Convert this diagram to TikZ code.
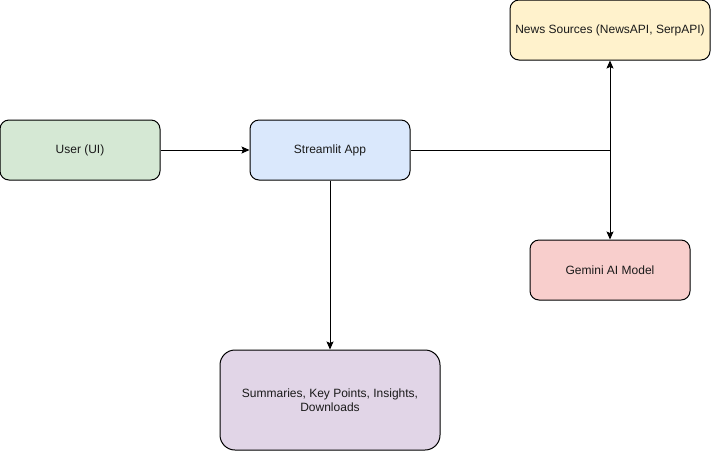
\documentclass[tikz,border=0pt]{standalone}
\usepackage{fontspec}
\setmainfont{Liberation Sans}
\usetikzlibrary{arrows.meta}
\definecolor{ugreen}{HTML}{D5E8D4}
\definecolor{ublue}{HTML}{DAE8FC}
\definecolor{uyellow}{HTML}{FFF2CC}
\definecolor{ured}{HTML}{F8CECC}
\definecolor{upurple}{HTML}{E1D5E7}
\definecolor{txt}{HTML}{1A1A1A}
\tikzset{
  box/.style={draw=black, line width=1pt, rounded corners=9pt, minimum width=160pt, minimum height=60pt,
    inner sep=0pt, align=center, font=\fontsize{12}{14}\selectfont, text=txt},
  conn/.style={draw=black, line width=1pt, -{Stealth[length=8pt,width=7pt,inset=1.5pt]}}
}
\begin{document}
\begin{tikzpicture}[x=1pt,y=-1pt]
\useasboundingbox (0,0) rectangle (711,451);
\node[box, fill=ugreen] (user) at (80,150) {User (UI)};
\node[box, fill=ublue] (app) at (330,150) {Streamlit App};
\node[box, fill=uyellow, minimum width=200pt] (news) at (610,30) {News Sources (NewsAPI, SerpAPI)};
\node[box, fill=ured] (gem) at (610,270) {Gemini AI Model};
\node[box, fill=upurple, minimum width=220pt, minimum height=100pt, rounded corners=15pt] (out) at (330,400) {Summaries, Key Points, Insights,\\Downloads};
\draw[conn] (user) -- (app);
\draw[conn] (app.east) -| (news.south);
\draw[conn] (app.east) -| (gem.north);
\draw[conn] (app) -- (out);
\end{tikzpicture}
\end{document}
